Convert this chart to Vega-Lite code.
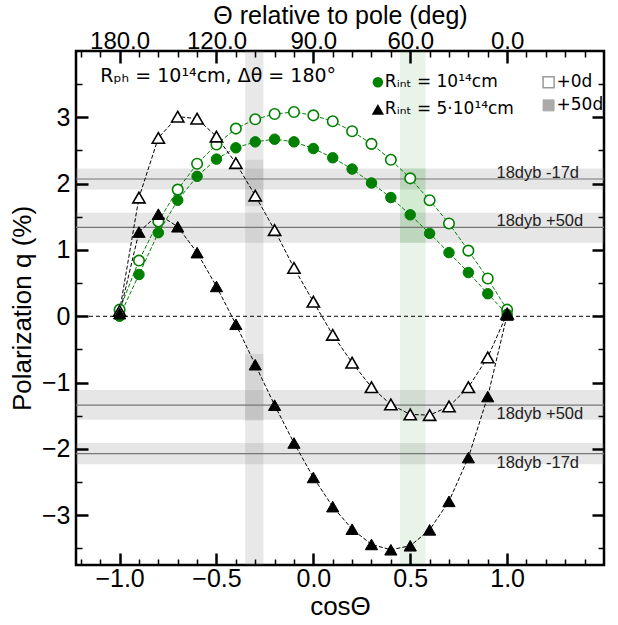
{
  "$schema": "https://vega.github.io/schema/vega-lite/v6.json",
  "width": 528,
  "height": 514,
  "autosize": "none",
  "padding": {"left": 76, "top": 51, "right": 14, "bottom": 60},
  "background": "white",
  "config": {
    "view": {"stroke": "black", "strokeWidth": 2.5},
    "font": "Liberation Sans"
  },
  "resolve": {"axis": {"x": "independent", "y": "independent"}},
  "datasets": {
    "curves": [
      {"cos": -1.0, "q": 0.10, "model": "1e14", "epoch": "0d"},
      {"cos": -0.9, "q": 0.84, "model": "1e14", "epoch": "0d"},
      {"cos": -0.8, "q": 1.43, "model": "1e14", "epoch": "0d"},
      {"cos": -0.7, "q": 1.91, "model": "1e14", "epoch": "0d"},
      {"cos": -0.6, "q": 2.30, "model": "1e14", "epoch": "0d"},
      {"cos": -0.5, "q": 2.59, "model": "1e14", "epoch": "0d"},
      {"cos": -0.4, "q": 2.83, "model": "1e14", "epoch": "0d"},
      {"cos": -0.3, "q": 2.97, "model": "1e14", "epoch": "0d"},
      {"cos": -0.2, "q": 3.05, "model": "1e14", "epoch": "0d"},
      {"cos": -0.1, "q": 3.08, "model": "1e14", "epoch": "0d"},
      {"cos": 0.0, "q": 3.03, "model": "1e14", "epoch": "0d"},
      {"cos": 0.1, "q": 2.94, "model": "1e14", "epoch": "0d"},
      {"cos": 0.2, "q": 2.79, "model": "1e14", "epoch": "0d"},
      {"cos": 0.3, "q": 2.60, "model": "1e14", "epoch": "0d"},
      {"cos": 0.4, "q": 2.36, "model": "1e14", "epoch": "0d"},
      {"cos": 0.5, "q": 2.08, "model": "1e14", "epoch": "0d"},
      {"cos": 0.6, "q": 1.75, "model": "1e14", "epoch": "0d"},
      {"cos": 0.7, "q": 1.40, "model": "1e14", "epoch": "0d"},
      {"cos": 0.8, "q": 0.99, "model": "1e14", "epoch": "0d"},
      {"cos": 0.9, "q": 0.57, "model": "1e14", "epoch": "0d"},
      {"cos": 1.0, "q": 0.10, "model": "1e14", "epoch": "0d"},
      {"cos": -1.0, "q": 0.00, "model": "1e14", "epoch": "50d"},
      {"cos": -0.9, "q": 0.63, "model": "1e14", "epoch": "50d"},
      {"cos": -0.8, "q": 1.26, "model": "1e14", "epoch": "50d"},
      {"cos": -0.7, "q": 1.75, "model": "1e14", "epoch": "50d"},
      {"cos": -0.6, "q": 2.11, "model": "1e14", "epoch": "50d"},
      {"cos": -0.5, "q": 2.37, "model": "1e14", "epoch": "50d"},
      {"cos": -0.4, "q": 2.54, "model": "1e14", "epoch": "50d"},
      {"cos": -0.3, "q": 2.63, "model": "1e14", "epoch": "50d"},
      {"cos": -0.2, "q": 2.67, "model": "1e14", "epoch": "50d"},
      {"cos": -0.1, "q": 2.63, "model": "1e14", "epoch": "50d"},
      {"cos": 0.0, "q": 2.53, "model": "1e14", "epoch": "50d"},
      {"cos": 0.1, "q": 2.39, "model": "1e14", "epoch": "50d"},
      {"cos": 0.2, "q": 2.22, "model": "1e14", "epoch": "50d"},
      {"cos": 0.3, "q": 2.01, "model": "1e14", "epoch": "50d"},
      {"cos": 0.4, "q": 1.79, "model": "1e14", "epoch": "50d"},
      {"cos": 0.5, "q": 1.53, "model": "1e14", "epoch": "50d"},
      {"cos": 0.6, "q": 1.25, "model": "1e14", "epoch": "50d"},
      {"cos": 0.7, "q": 0.96, "model": "1e14", "epoch": "50d"},
      {"cos": 0.8, "q": 0.66, "model": "1e14", "epoch": "50d"},
      {"cos": 0.9, "q": 0.34, "model": "1e14", "epoch": "50d"},
      {"cos": 1.0, "q": 0.03, "model": "1e14", "epoch": "50d"},
      {"cos": -1.0, "q": 0.08, "model": "5e14", "epoch": "0d"},
      {"cos": -0.9, "q": 1.79, "model": "5e14", "epoch": "0d"},
      {"cos": -0.8, "q": 2.69, "model": "5e14", "epoch": "0d"},
      {"cos": -0.7, "q": 3.01, "model": "5e14", "epoch": "0d"},
      {"cos": -0.6, "q": 2.98, "model": "5e14", "epoch": "0d"},
      {"cos": -0.5, "q": 2.71, "model": "5e14", "epoch": "0d"},
      {"cos": -0.4, "q": 2.31, "model": "5e14", "epoch": "0d"},
      {"cos": -0.3, "q": 1.82, "model": "5e14", "epoch": "0d"},
      {"cos": -0.2, "q": 1.30, "model": "5e14", "epoch": "0d"},
      {"cos": -0.1, "q": 0.73, "model": "5e14", "epoch": "0d"},
      {"cos": 0.0, "q": 0.22, "model": "5e14", "epoch": "0d"},
      {"cos": 0.1, "q": -0.28, "model": "5e14", "epoch": "0d"},
      {"cos": 0.2, "q": -0.70, "model": "5e14", "epoch": "0d"},
      {"cos": 0.3, "q": -1.07, "model": "5e14", "epoch": "0d"},
      {"cos": 0.4, "q": -1.33, "model": "5e14", "epoch": "0d"},
      {"cos": 0.5, "q": -1.48, "model": "5e14", "epoch": "0d"},
      {"cos": 0.6, "q": -1.49, "model": "5e14", "epoch": "0d"},
      {"cos": 0.7, "q": -1.36, "model": "5e14", "epoch": "0d"},
      {"cos": 0.8, "q": -1.07, "model": "5e14", "epoch": "0d"},
      {"cos": 0.9, "q": -0.62, "model": "5e14", "epoch": "0d"},
      {"cos": 1.0, "q": 0.04, "model": "5e14", "epoch": "0d"},
      {"cos": -1.0, "q": 0.04, "model": "5e14", "epoch": "50d"},
      {"cos": -0.9, "q": 1.27, "model": "5e14", "epoch": "50d"},
      {"cos": -0.8, "q": 1.54, "model": "5e14", "epoch": "50d"},
      {"cos": -0.7, "q": 1.35, "model": "5e14", "epoch": "50d"},
      {"cos": -0.6, "q": 0.96, "model": "5e14", "epoch": "50d"},
      {"cos": -0.5, "q": 0.45, "model": "5e14", "epoch": "50d"},
      {"cos": -0.4, "q": -0.12, "model": "5e14", "epoch": "50d"},
      {"cos": -0.3, "q": -0.73, "model": "5e14", "epoch": "50d"},
      {"cos": -0.2, "q": -1.34, "model": "5e14", "epoch": "50d"},
      {"cos": -0.1, "q": -1.91, "model": "5e14", "epoch": "50d"},
      {"cos": 0.0, "q": -2.43, "model": "5e14", "epoch": "50d"},
      {"cos": 0.1, "q": -2.87, "model": "5e14", "epoch": "50d"},
      {"cos": 0.2, "q": -3.21, "model": "5e14", "epoch": "50d"},
      {"cos": 0.3, "q": -3.44, "model": "5e14", "epoch": "50d"},
      {"cos": 0.4, "q": -3.52, "model": "5e14", "epoch": "50d"},
      {"cos": 0.5, "q": -3.46, "model": "5e14", "epoch": "50d"},
      {"cos": 0.6, "q": -3.22, "model": "5e14", "epoch": "50d"},
      {"cos": 0.7, "q": -2.79, "model": "5e14", "epoch": "50d"},
      {"cos": 0.8, "q": -2.13, "model": "5e14", "epoch": "50d"},
      {"cos": 0.9, "q": -1.21, "model": "5e14", "epoch": "50d"},
      {"cos": 1.0, "q": 0.02, "model": "5e14", "epoch": "50d"}
    ]
  },
  "layer": [
    {
      "data": {"values": [
        {"lo": 1.91, "hi": 2.23}, {"lo": 1.11, "hi": 1.56},
        {"lo": -1.56, "hi": -1.11}, {"lo": -2.23, "hi": -1.91}
      ]},
      "mark": {"type": "rect", "color": "#808080", "opacity": 0.2},
      "encoding": {
        "y": {"field": "lo", "type": "quantitative", "axis": null, "scale": {"domain": [-3.75, 4.0], "nice": false, "zero": false}},
        "y2": {"field": "hi"}
      }
    },
    {
      "data": {"values": [
        {"x0": -0.352, "x1": -0.258, "band": "grey"},
        {"x0": 0.447, "x1": 0.579, "band": "green"}
      ]},
      "mark": {"type": "rect"},
      "encoding": {
        "x": {"field": "x0", "type": "quantitative", "axis": null, "scale": {"domain": [-1.225, 1.5], "nice": false, "zero": false}},
        "x2": {"field": "x1"},
        "color": {"field": "band", "type": "nominal", "legend": null, "scale": {"domain": ["grey", "green"], "range": ["#808080", "#008000"]}},
        "opacity": {"field": "band", "type": "nominal", "legend": null, "scale": {"domain": ["grey", "green"], "range": [0.18, 0.09]}}
      }
    },
    {
      "data": {"values": [
        {"x0": -0.352, "x1": -0.258, "lo": 1.66, "hi": 2.36, "band": "grey"},
        {"x0": -0.352, "x1": -0.258, "lo": -1.57, "hi": -0.57, "band": "grey"},
        {"x0": 0.447, "x1": 0.579, "lo": 1.11, "hi": 2.23, "band": "green"}
      ]},
      "mark": {"type": "rect"},
      "encoding": {
        "x": {"field": "x0", "type": "quantitative", "axis": null},
        "x2": {"field": "x1"},
        "y": {"field": "lo", "type": "quantitative", "axis": null},
        "y2": {"field": "hi"},
        "color": {"field": "band", "type": "nominal", "legend": null, "scale": {"domain": ["grey", "green"], "range": ["#808080", "#008000"]}},
        "opacity": {"field": "band", "type": "nominal", "legend": null, "scale": {"domain": ["grey", "green"], "range": [0.42, 0.25]}}
      }
    },
    {
      "data": {"values": [{"q": 2.07}, {"q": 1.34}, {"q": -1.34}, {"q": -2.07}]},
      "mark": {"type": "rule", "color": "#777777", "strokeWidth": 1.2},
      "encoding": {"y": {"field": "q", "type": "quantitative", "axis": null}}
    },
    {
      "data": {"values": [{"q": 0}]},
      "mark": {"type": "rule", "color": "black", "strokeWidth": 1, "strokeDash": [4, 3]},
      "encoding": {"y": {"field": "q", "type": "quantitative", "axis": null}}
    },
    {
      "data": {"name": "curves"},
      "transform": [{"filter": "datum.model === '1e14'"}],
      "mark": {"type": "line", "strokeWidth": 1, "strokeDash": [4, 2], "color": "#008000"},
      "encoding": {
        "x": {"field": "cos", "type": "quantitative",
          "axis": {
            "orient": "top",
            "values": [-1.2,-1.1,-1.0,-0.9,-0.8,-0.7,-0.6,-0.5,-0.4,-0.3,-0.2,-0.1,0,0.1,0.2,0.3,0.4,0.5,0.6,0.7,0.8,0.9,1.0,1.1,1.2,1.3,1.4],
            "domain": false, "grid": false, "zindex": 1,
            "tickColor": "black",
            "tickSize": {"condition": {"test": "abs(datum.value*2 - round(datum.value*2)) < 0.001", "value": -12}, "value": -6},
            "tickWidth": {"condition": {"test": "abs(datum.value*2 - round(datum.value*2)) < 0.001", "value": 2.5}, "value": 1.5},
            "labelExpr": "abs(datum.value*2 - round(datum.value*2)) < 0.001 && abs(datum.value) <= 1.0001 ? format(acos(datum.value)*180/PI, '.1f') : ''",
            "labelFont": "Liberation Sans", "labelFontSize": 24, "labelColor": "black",
            "labelPadding": 10, "labelOverlap": false, "labelFlush": false, "labelBound": false,
            "title": "Θ relative to pole (deg)", "titleFont": "Liberation Sans", "titleFontSize": 25,
            "titleFontWeight": "normal", "titleColor": "black", "titlePadding": -5
          }},
        "y": {"field": "q", "type": "quantitative",
          "axis": {
            "orient": "right",
            "values": [-3.5,-3,-2.5,-2,-1.5,-1,-0.5,0,0.5,1,1.5,2,2.5,3,3.5],
            "domain": false, "grid": false, "zindex": 1, "labels": false, "title": null,
            "tickColor": "black",
            "tickSize": {"condition": {"test": "abs(datum.value - round(datum.value)) < 0.001", "value": -12}, "value": -6},
            "tickWidth": {"condition": {"test": "abs(datum.value - round(datum.value)) < 0.001", "value": 2.5}, "value": 1.5}
          }},
        "detail": {"field": "epoch"}
      }
    },
    {
      "data": {"name": "curves"},
      "transform": [{"filter": "datum.model === '5e14'"}],
      "mark": {"type": "line", "strokeWidth": 1, "strokeDash": [4, 2], "color": "black"},
      "encoding": {
        "x": {"field": "cos", "type": "quantitative", "axis": null},
        "y": {"field": "q", "type": "quantitative", "axis": null},
        "detail": {"field": "epoch"}
      }
    },
    {
      "data": {"name": "curves"},
      "transform": [{"filter": "datum.model === '1e14' && datum.epoch === '0d'"}],
      "mark": {"type": "point", "shape": "circle", "filled": true, "fill": "white", "stroke": "#008000", "strokeWidth": 1.6, "size": 110, "opacity": 1},
      "encoding": {
        "x": {"field": "cos", "type": "quantitative",
          "axis": {
            "orient": "bottom",
            "values": [-1.2,-1.1,-1.0,-0.9,-0.8,-0.7,-0.6,-0.5,-0.4,-0.3,-0.2,-0.1,0,0.1,0.2,0.3,0.4,0.5,0.6,0.7,0.8,0.9,1.0,1.1,1.2,1.3,1.4],
            "domain": false, "grid": false, "zindex": 1,
            "tickColor": "black",
            "tickSize": {"condition": {"test": "abs(datum.value*2 - round(datum.value*2)) < 0.001", "value": -12}, "value": -6},
            "tickWidth": {"condition": {"test": "abs(datum.value*2 - round(datum.value*2)) < 0.001", "value": 2.5}, "value": 1.5},
            "labelExpr": "abs(datum.value*2 - round(datum.value*2)) < 0.001 && abs(datum.value) <= 1.0001 ? format(datum.value, '.1f') : ''",
            "labelFont": "Liberation Sans", "labelFontSize": 25, "labelColor": "black",
            "labelPadding": 13, "labelOverlap": false, "labelFlush": false, "labelBound": false,
            "title": "cosΘ", "titleFont": "Liberation Sans", "titleFontSize": 26,
            "titleFontWeight": "normal", "titleColor": "black", "titlePadding": -4
          }},
        "y": {"field": "q", "type": "quantitative",
          "axis": {
            "orient": "left",
            "values": [-3.5,-3,-2.5,-2,-1.5,-1,-0.5,0,0.5,1,1.5,2,2.5,3,3.5],
            "domain": false, "grid": false, "zindex": 1,
            "tickColor": "black",
            "tickSize": {"condition": {"test": "abs(datum.value - round(datum.value)) < 0.001", "value": -12}, "value": -6},
            "tickWidth": {"condition": {"test": "abs(datum.value - round(datum.value)) < 0.001", "value": 2.5}, "value": 1.5},
            "labelExpr": "abs(datum.value - round(datum.value)) < 0.001 ? format(datum.value, 'd') : ''",
            "labelFont": "Liberation Sans", "labelFontSize": 25, "labelColor": "black",
            "labelPadding": 18, "labelOverlap": false, "labelBound": false,
            "title": "Polarization q (%)", "titleFont": "Liberation Sans", "titleFontSize": 26,
            "titleFontWeight": "normal", "titleColor": "black", "titlePadding": 6
          }}
      }
    },
    {
      "data": {"name": "curves"},
      "transform": [{"filter": "datum.model === '1e14' && datum.epoch === '50d'"}],
      "mark": {"type": "point", "shape": "circle", "filled": true, "fill": "#008000", "stroke": "#008000", "strokeWidth": 1, "size": 110, "opacity": 1},
      "encoding": {
        "x": {"field": "cos", "type": "quantitative", "axis": null},
        "y": {"field": "q", "type": "quantitative", "axis": null}
      }
    },
    {
      "data": {"name": "curves"},
      "transform": [{"filter": "datum.model === '5e14' && datum.epoch === '0d'"}],
      "mark": {"type": "point", "shape": "triangle-up", "filled": true, "fill": "white", "stroke": "black", "strokeWidth": 1.6, "size": 150, "opacity": 1},
      "encoding": {
        "x": {"field": "cos", "type": "quantitative", "axis": null},
        "y": {"field": "q", "type": "quantitative", "axis": null}
      }
    },
    {
      "data": {"name": "curves"},
      "transform": [{"filter": "datum.model === '5e14' && datum.epoch === '50d'"}],
      "mark": {"type": "point", "shape": "triangle-up", "filled": true, "fill": "black", "stroke": "black", "strokeWidth": 1, "size": 150, "opacity": 1},
      "encoding": {
        "x": {"field": "cos", "type": "quantitative", "axis": null},
        "y": {"field": "q", "type": "quantitative", "axis": null}
      }
    },
    {
      "data": {"values": [{"label": "18dyb -17d", "q": 2.07}, {"label": "18dyb +50d", "q": 1.34}]},
      "mark": {"type": "text", "align": "left", "baseline": "alphabetic", "dy": -1, "font": "Liberation Sans", "fontSize": 16.5, "color": "#222222"},
      "encoding": {
        "x": {"datum": 0.945, "type": "quantitative", "axis": null},
        "y": {"field": "q", "type": "quantitative", "axis": null},
        "text": {"field": "label"}
      }
    },
    {
      "data": {"values": [{"label": "18dyb +50d", "q": -1.34}, {"label": "18dyb -17d", "q": -2.07}]},
      "mark": {"type": "text", "align": "left", "baseline": "top", "dy": 1, "font": "Liberation Sans", "fontSize": 16.5, "color": "#222222"},
      "encoding": {
        "x": {"datum": 0.945, "type": "quantitative", "axis": null},
        "y": {"field": "q", "type": "quantitative", "axis": null},
        "text": {"field": "label"}
      }
    },
    {
      "data": {"values": [{"label": "Rₚₕ = 10¹⁴cm, Δθ = 180°", "cos": -1.1, "q": 3.63}]},
      "mark": {"type": "text", "align": "left", "baseline": "middle", "font": "DejaVu Sans", "fontSize": 19, "color": "black"},
      "encoding": {
        "x": {"field": "cos", "type": "quantitative", "axis": null},
        "y": {"field": "q", "type": "quantitative", "axis": null},
        "text": {"field": "label"}
      }
    },
    {
      "data": {"values": [
        {"label": "Rᵢₙₜ = 10¹⁴cm", "cos": 0.369, "q": 3.53},
        {"label": "Rᵢₙₜ = 5·10¹⁴cm", "cos": 0.369, "q": 3.12},
        {"label": "+0d", "cos": 1.255, "q": 3.53},
        {"label": "+50d", "cos": 1.255, "q": 3.18}
      ]},
      "mark": {"type": "text", "align": "left", "baseline": "middle", "font": "DejaVu Sans", "fontSize": 17, "color": "black"},
      "encoding": {
        "x": {"field": "cos", "type": "quantitative", "axis": null},
        "y": {"field": "q", "type": "quantitative", "axis": null},
        "text": {"field": "label"}
      }
    },
    {
      "data": {"values": [{"cos": 0.333, "q": 3.53}]},
      "mark": {"type": "point", "shape": "circle", "filled": true, "color": "#008000", "size": 110, "opacity": 1},
      "encoding": {
        "x": {"field": "cos", "type": "quantitative", "axis": null},
        "y": {"field": "q", "type": "quantitative", "axis": null}
      }
    },
    {
      "data": {"values": [{"cos": 0.333, "q": 3.12}]},
      "mark": {"type": "point", "shape": "triangle-up", "filled": true, "color": "black", "size": 150, "opacity": 1},
      "encoding": {
        "x": {"field": "cos", "type": "quantitative", "axis": null},
        "y": {"field": "q", "type": "quantitative", "axis": null}
      }
    },
    {
      "data": {"values": [{"cos": 1.214, "q": 3.53}]},
      "mark": {"type": "point", "shape": "square", "filled": true, "fill": "white", "stroke": "#999999", "strokeWidth": 1.5, "size": 121, "opacity": 1},
      "encoding": {
        "x": {"field": "cos", "type": "quantitative", "axis": null},
        "y": {"field": "q", "type": "quantitative", "axis": null}
      }
    },
    {
      "data": {"values": [{"cos": 1.214, "q": 3.18}]},
      "mark": {"type": "point", "shape": "square", "filled": true, "fill": "#aaaaaa", "stroke": "#aaaaaa", "strokeWidth": 1, "size": 121, "opacity": 1},
      "encoding": {
        "x": {"field": "cos", "type": "quantitative", "axis": null},
        "y": {"field": "q", "type": "quantitative", "axis": null}
      }
    }
  ]
}
